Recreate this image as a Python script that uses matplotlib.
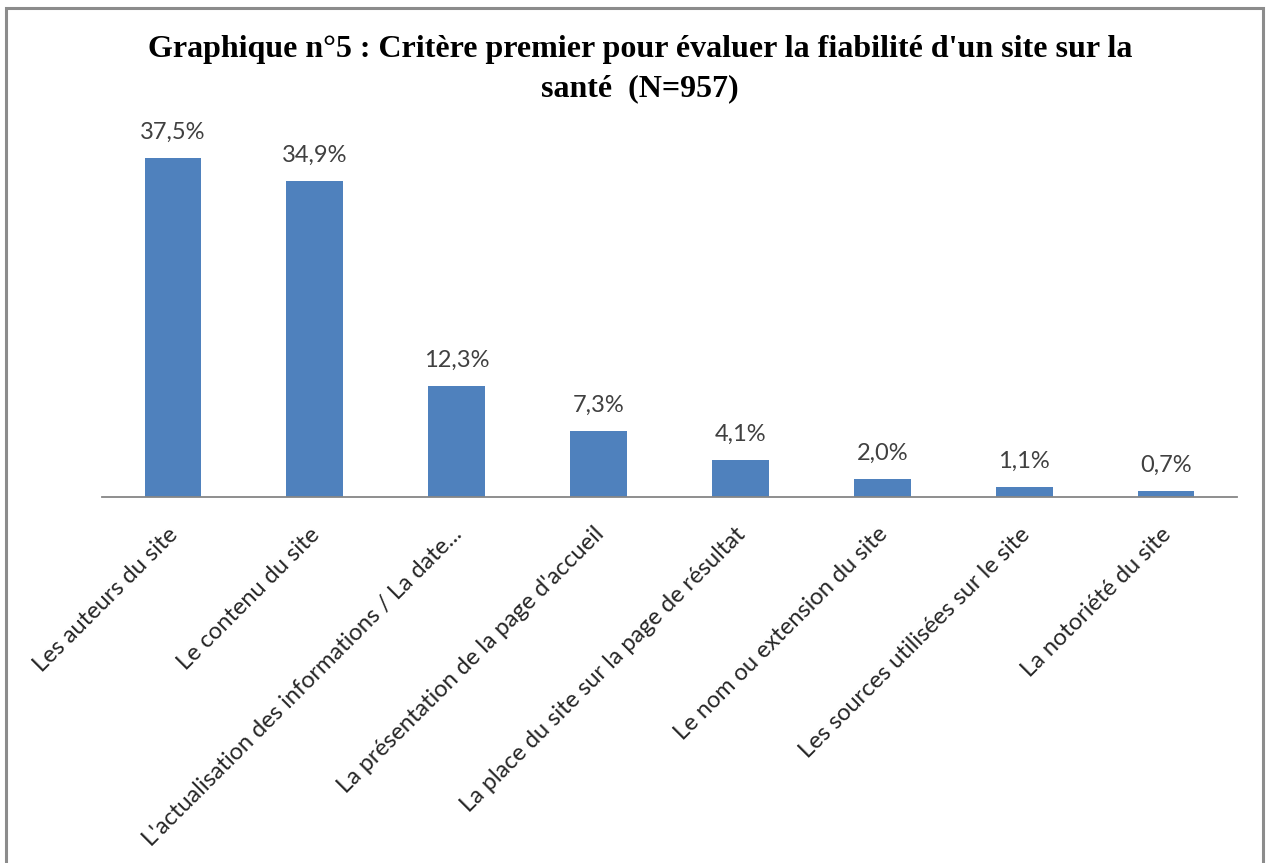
import matplotlib
matplotlib.use("Agg")
import matplotlib.pyplot as plt
from matplotlib.patches import Rectangle
from matplotlib.transforms import ScaledTranslation

criteres = [
    "Les auteurs du site",
    "Le contenu du site",
    "L'actualisation des informations / La date...",
    "La présentation de la page d'accueil",
    "La place du site sur la page de résultat",
    "Le nom ou extension du site",
    "Les sources utilisées sur le site",
    "La notoriété du site",
]
pourcentages = [37.5, 34.9, 12.3, 7.3, 4.1, 2.0, 1.1, 0.7]
etiquettes = ["37,5%", "34,9%", "12,3%", "7,3%", "4,1%", "2,0%", "1,1%", "0,7%"]
titre = "Graphique n°5 : Critère premier pour évaluer la fiabilité d'un site sur la\nsanté  (N=957)"

W, H = 1266, 863
fig = plt.figure(figsize=(W / 100, H / 100), dpi=100)
fig.patch.set_facecolor("white")

# grey frame around the chart area (bottom edge falls off the picture)
fig.patches.append(Rectangle((6 / W, -0.02), (1263 - 6) / W, 1 - 8 / H + 0.02,
                             transform=fig.transFigure, fill=False,
                             edgecolor="#8c8c8c", linewidth=2.2))

ax = fig.add_axes([102 / W, 1 - 497 / H, (1237 - 102) / W, 362 / H])
x = range(len(criteres))
ax.bar(x, pourcentages, width=0.4, color="#4F81BD", zorder=2)
ax.set_xlim(-0.5, len(criteres) - 0.5)
ax.set_ylim(0, 40)

for xi, v, lab in zip(x, pourcentages, etiquettes):
    ax.annotate(lab, (xi, v), xytext=(0, 11), textcoords="offset points",
                ha="center", va="bottom", fontsize=17, family="Lato",
                color="#404040")

for side in ("left", "right", "top"):
    ax.spines[side].set_visible(False)
ax.spines["bottom"].set_color("#868686")
ax.spines["bottom"].set_linewidth(1.3)
ax.set_yticks([])
ax.set_xticks(list(x))
ax.set_xticklabels(criteres, rotation=45, ha="right", va="center",
                   rotation_mode="anchor", fontsize=17, family="Lato",
                   color="#262626")
ax.tick_params(axis="x", length=0, pad=0)
shift = ScaledTranslation(2 / 100, -34 / 100, fig.dpi_scale_trans)
for t in ax.get_xticklabels():
    t.set_transform(t.get_transform() + shift)

fig.text(640 / W, 1 - 35 / H, titre, ha="center", va="top",
         fontsize=23, fontweight="bold", family="Liberation Serif",
         linespacing=1.45, color="black")

fig.savefig("out.png", dpi=100)
